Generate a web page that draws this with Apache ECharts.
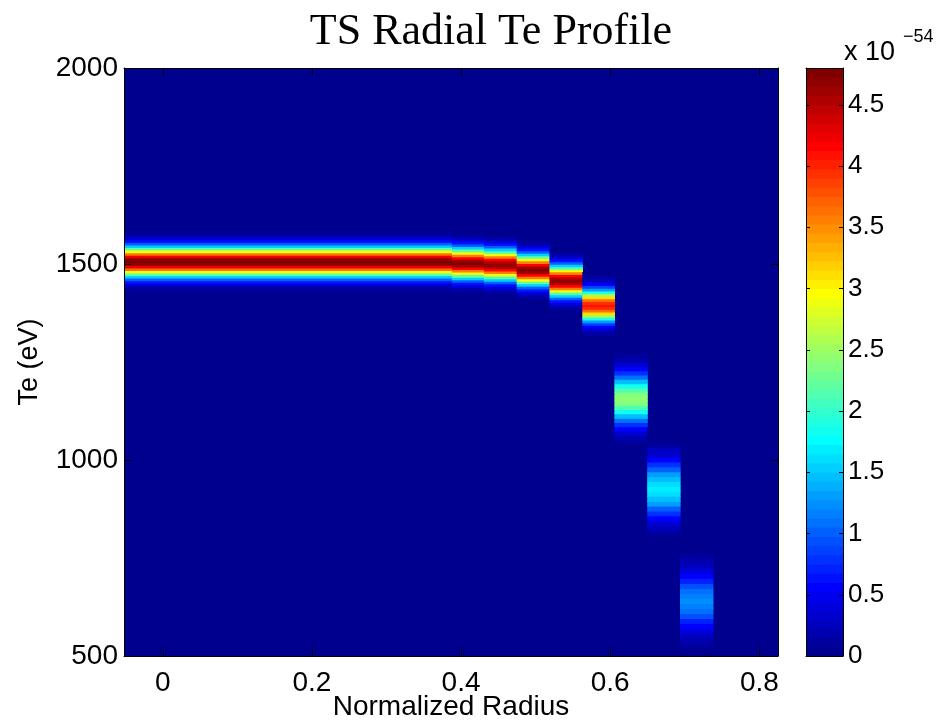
<!DOCTYPE html>
<html><head><meta charset="utf-8">
<script src="https://cdn.jsdelivr.net/npm/echarts@6/dist/echarts.min.js"></script>
<style>html,body{margin:0;padding:0;background:#fff}#c{width:940px;height:725px}</style>
</head><body><div id="c"></div>
<script>
// ---- data ----
// radial bin edges (normalized radius); column i spans edges[i]..edges[i+1]
const radiusEdges = [-0.052, 0.388, 0.431, 0.475, 0.519, 0.563, 0.606, 0.650, 0.694, 0.738];
// centre temperature of each column (eV)
const teCenter = [1506, 1502, 1498, 1485, 1457, 1394, 1156, 926, 640];
// 1-sigma width of each column's Te distribution (eV)
const teSigma = [26, 26, 26, 26, 26, 27, 44, 50, 51];
// peak value of each column (x 10^-54)
const peakValue = [4.8, 4.75, 4.7, 4.75, 4.7, 4.1, 2.45, 1.7, 1.2];
// vertical profile shape: offsets in sigma units and relative values
const profileOffset = [-3, -2.75, -2.5, -2.25, -2, -1.75, -1.5, -1.25, -1, -0.75, -0.5, -0.25, 0,
                       0.25, 0.5, 0.75, 1, 1.25, 1.5, 1.75, 2, 2.25, 2.5, 2.75, 3];
const profileShape = [0.011, 0.023, 0.044, 0.080, 0.135, 0.216, 0.325, 0.458, 0.607, 0.755, 0.882, 0.969, 1,
                      0.969, 0.882, 0.755, 0.607, 0.458, 0.325, 0.216, 0.135, 0.080, 0.044, 0.023, 0.011];
// axis ticks
const xTicks = [0, 0.2, 0.4, 0.6, 0.8];
const yTicks = [500, 1000, 1500, 2000];
const cbTicks = [0, 0.5, 1, 1.5, 2, 2.5, 3, 3.5, 4, 4.5];
const cbMax = 4.8;
const nColors = 64;

// ---- jet colormap (MATLAB jet(64)) ----
function jetMap(m) {
  const n = Math.ceil(m / 4);
  const u = [];
  for (let i = 1; i <= n; i++) u.push(i / n);
  for (let i = 0; i < n - 1; i++) u.push(1);
  for (let i = n; i >= 1; i--) u.push(i / n);
  const J = []; for (let i = 0; i < m; i++) J.push([0, 0, 0]);
  const g0 = Math.ceil(n / 2) - (m % 4 === 1 ? 1 : 0);
  for (let k = 0; k < u.length; k++) {
    const g = g0 + k + 1, r = g + n, b = g - n;
    if (r >= 1 && r <= m) J[r - 1][0] = u[k];
    if (g >= 1 && g <= m) J[g - 1][1] = u[k];
    if (b >= 1 && b <= m) J[b - 1][2] = u[k];
  }
  return J.map(c => 'rgb(' + c.map(v => Math.round(v * 255)).join(',') + ')');
}
const jet = jetMap(nColors);
const step = cbMax / nColors;
const pieces = jet.map((c, i) => {
  if (i === 0) return { lt: step, color: c };
  if (i === nColors - 1) return { gte: i * step, color: c };
  return { gte: i * step, lt: (i + 1) * step, color: c };
});

// ---- build cells ----
const cells = [];
const offStep = profileOffset[1] - profileOffset[0];
for (let c = 0; c < teCenter.length; c++) {
  const half = offStep * teSigma[c] / 2;
  for (let k = 0; k < profileOffset.length; k++) {
    const te = teCenter[c] + profileOffset[k] * teSigma[c];
    cells.push([radiusEdges[c], radiusEdges[c + 1], te - half, te + half, peakValue[c] * profileShape[k]]);
  }
}
const cbCells = jet.map((c, i) => [0, 1, i * step, (i + 1) * step, (i + 0.5) * step]);

function renderRect(params, api) {
  const a = api.coord([api.value(0), api.value(2)]);
  const b = api.coord([api.value(1), api.value(3)]);
  const x = Math.min(a[0], b[0]), y = Math.min(a[1], b[1]);
  return {
    type: 'rect',
    shape: { x: x - 0.3, y: y - 0.4, width: Math.abs(b[0] - a[0]) + 0.6, height: Math.abs(b[1] - a[1]) + 0.8 },
    style: { fill: api.visual('color') }
  };
}

const FONT = 'Liberation Sans';
const plain = v => String(v);
const lineStyle = { color: '#000', width: 1 };
const chart = echarts.init(document.getElementById('c'));
chart.setOption({
  animation: false,
  backgroundColor: '#fff',
  grid: [
    { left: 124, top: 68, width: 654, height: 588, show: true, backgroundColor: jet[0], borderWidth: 0 },
    { left: 806, top: 68, width: 37, height: 588, show: false }
  ],
  xAxis: [
    { type: 'value', gridIndex: 0, min: -0.052, max: 0.825, position: 'bottom', z: 5,
      axisLine: { show: true, onZero: false, lineStyle },
      axisTick: { show: true, inside: true, length: 7, lineStyle, customValues: xTicks },
      axisLabel: { show: true, customValues: xTicks, formatter: plain, fontFamily: FONT, fontSize: 28, color: '#000', margin: 13 },
      splitLine: { show: false } },
    { type: 'value', gridIndex: 0, min: -0.052, max: 0.825, position: 'top', z: 5,
      axisLine: { show: true, onZero: false, lineStyle },
      axisTick: { show: true, inside: true, length: 7, lineStyle, customValues: xTicks },
      axisLabel: { show: false }, splitLine: { show: false } },
    { type: 'value', gridIndex: 1, min: 0, max: 1, position: 'bottom', z: 5,
      axisLine: { show: true, onZero: false, lineStyle }, axisTick: { show: false },
      axisLabel: { show: false }, splitLine: { show: false } },
    { type: 'value', gridIndex: 1, min: 0, max: 1, position: 'top', z: 5,
      axisLine: { show: true, onZero: false, lineStyle }, axisTick: { show: false },
      axisLabel: { show: false }, splitLine: { show: false } }
  ],
  yAxis: [
    { type: 'value', gridIndex: 0, min: 500, max: 2000, interval: 500, position: 'left', z: 5,
      axisLine: { show: true, onZero: false, lineStyle },
      axisTick: { show: true, inside: true, length: 7, lineStyle, customValues: yTicks },
      axisLabel: { show: true, customValues: yTicks, formatter: plain, fontFamily: FONT, fontSize: 28, color: '#000', margin: 6 },
      splitLine: { show: false } },
    { type: 'value', gridIndex: 0, min: 500, max: 2000, interval: 500, position: 'right', z: 5,
      axisLine: { show: true, onZero: false, lineStyle },
      axisTick: { show: true, inside: true, length: 7, lineStyle, customValues: yTicks },
      axisLabel: { show: false }, splitLine: { show: false } },
    { type: 'value', gridIndex: 1, min: 0, max: cbMax, position: 'left', z: 5,
      axisLine: { show: true, onZero: false, lineStyle },
      axisTick: { show: true, inside: true, length: 4, lineStyle, customValues: cbTicks },
      axisLabel: { show: false }, splitLine: { show: false } },
    { type: 'value', gridIndex: 1, min: 0, max: cbMax, position: 'right', z: 5,
      axisLine: { show: true, onZero: false, lineStyle },
      axisTick: { show: true, inside: true, length: 4, lineStyle, customValues: cbTicks },
      axisLabel: { show: true, customValues: cbTicks, formatter: plain, fontFamily: FONT, fontSize: 26, color: '#000', margin: 5 },
      splitLine: { show: false } }
  ],
  visualMap: {
    type: 'piecewise', show: false, dimension: 4, seriesIndex: [0, 1], pieces: pieces
  },
  series: [
    { type: 'custom', name: 'Te distribution', xAxisIndex: 0, yAxisIndex: 0, clip: true,
      encode: { x: [0, 1], y: [2, 3] }, renderItem: renderRect, data: cells, z: 2 },
    { type: 'custom', name: 'colorbar', xAxisIndex: 2, yAxisIndex: 2, clip: true,
      encode: { x: [0, 1], y: [2, 3] }, renderItem: renderRect, data: cbCells, z: 2 }
  ],
  graphic: [
    { type: 'text', style: { text: 'TS Radial Te Profile', x: 491, y: 32,
        font: '44px "Liberation Serif"', fill: '#000', textAlign: 'center', textVerticalAlign: 'middle' } },
    { type: 'text', style: { text: 'Normalized Radius', x: 451, y: 707,
        font: '28px "Liberation Sans"', fill: '#000', textAlign: 'center', textVerticalAlign: 'middle' } },
    { type: 'text', rotation: Math.PI / 2, x: 30, y: 362, style: { text: 'Te (eV)', x: 0, y: 0,
        font: '27px "Liberation Sans"', fill: '#000', textAlign: 'center', textVerticalAlign: 'middle' } },
    { type: 'text', style: { text: 'x 10', x: 844, y: 53,
        font: '27px "Liberation Sans"', fill: '#000', textAlign: 'left', textVerticalAlign: 'middle' } },
    { type: 'text', style: { text: '\u221254', x: 903, y: 37,
        font: '18px "Liberation Sans"', fill: '#000', textAlign: 'left', textVerticalAlign: 'middle' } }
  ]
});
</script>
</body></html>
